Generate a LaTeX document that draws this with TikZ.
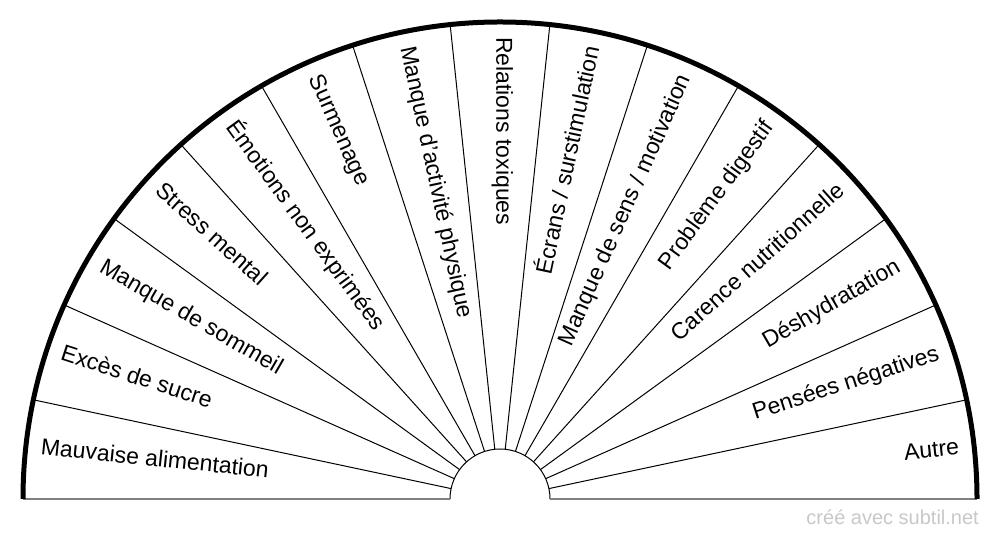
\documentclass[tikz,border=0pt]{standalone}
\usepackage{fontspec}
\setmainfont{Liberation Sans}
\usetikzlibrary{calc}
\definecolor{wmgray}{HTML}{C8C8C8}
\definecolor{basegray}{HTML}{808080}
\begin{document}
\begin{tikzpicture}[x=1pt,y=1pt,
  lab/.style={font=\fontsize{23}{27}\selectfont, inner sep=0pt, text height=0.716em, text depth=0pt},
  ray/.style={line width=1pt, black},
  rim/.style={line width=5pt, black},
  basel/.style={line width=1.5pt, basegray}]
\useasboundingbox (0,0) rectangle (1000,540);
\coordinate (C) at (500,41);
\foreach \k in {1,...,14} {
  \draw[ray] ($(C)+(\k*12:50)$) -- ($(C)+(\k*12:477)$);
}
\draw[ray] ($(C)+(50,0)$) arc[start angle=0, end angle=180, radius=50];
\draw[basel] ($(C)+(-477,0)$) -- ($(C)+(-50,0)$);
\draw[basel] ($(C)+(50,0)$) -- ($(C)+(477,0)$);
\draw[rim] ($(C)+(477,0)$) arc[start angle=0, end angle=180, radius=477];
\foreach \t [count=\i from 0] in {Mauvaise alimentation, Excès de sucre, Manque de sommeil, Stress mental, Émotions non exprimées, Surmenage, Manque d'activité physique, Relations toxiques, Écrans / surstimulation, Manque de sens / motivation, Problème digestif, Carence nutritionnelle, Déshydratation, Pensées négatives, Autre} {
  \pgfmathsetmacro\a{174-12*\i}
  \ifdim\a pt<89pt
    \node[lab, anchor=east, rotate=\a] (l\i) at ($(C)+(\a:462)$) {\t};
  \else
    \pgfmathsetmacro\r{\a-180}
    \node[lab, anchor=west, rotate=\r] (l\i) at ($(C)+(\a:462)$) {\t};
  \fi
}
\node[anchor=base east, text=wmgray, font=\fontsize{20}{24}\selectfont, inner sep=0pt] (wm) at (979,15) {créé avec subtil.net};
\end{tikzpicture}
\end{document}
